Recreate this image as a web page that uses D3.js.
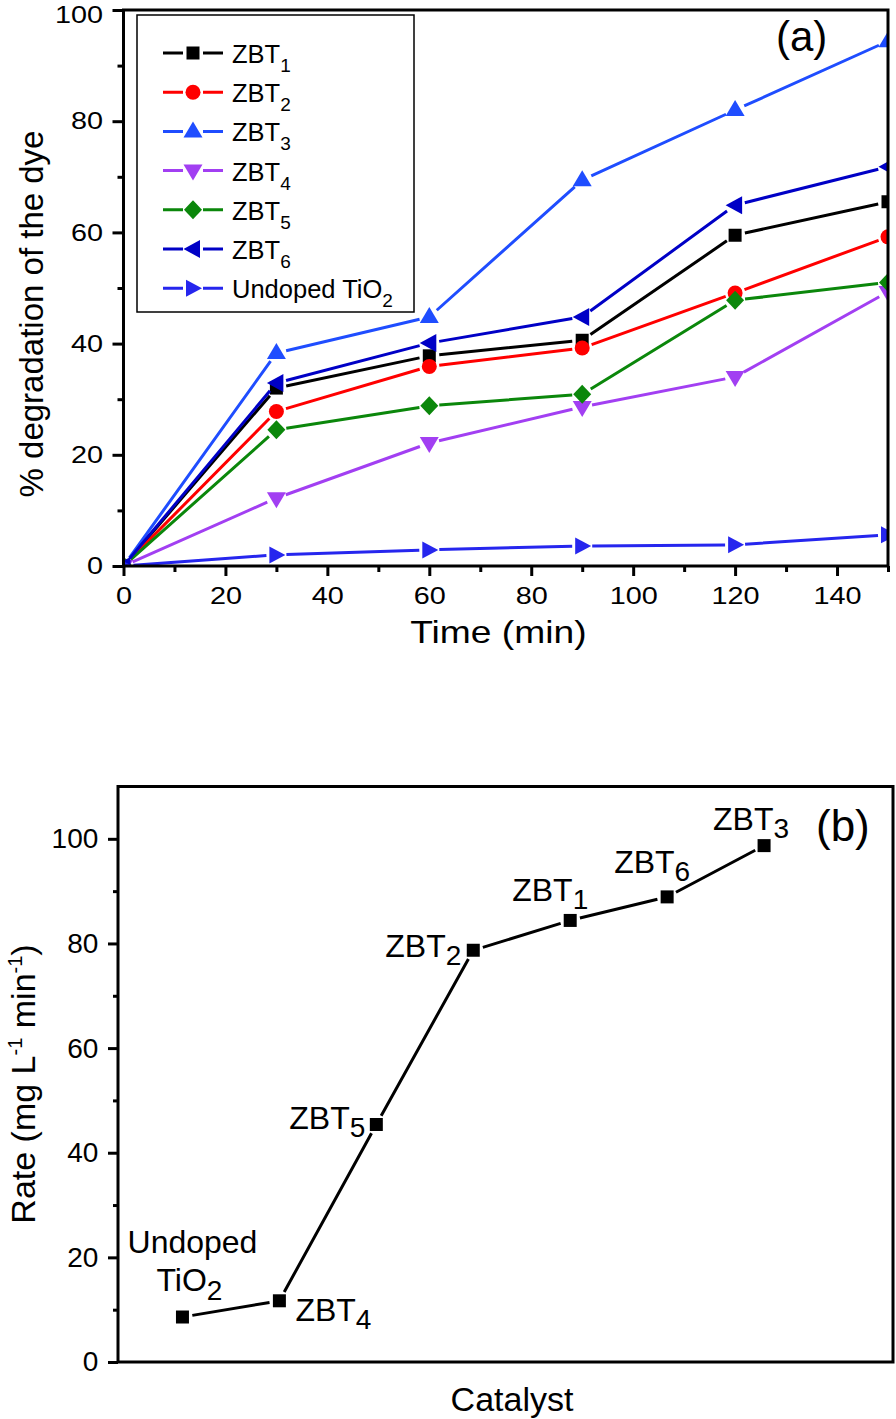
<!DOCTYPE html>
<html><head><meta charset="utf-8">
<script src="https://cdn.jsdelivr.net/npm/d3@7"></script>
<style>body{margin:0;background:#fff}svg{display:block;font-family:"Liberation Sans",Arial,Helvetica,sans-serif}</style>
</head><body><svg id="c" width="896" height="1419"></svg>
<script>
// ---------- data: panel (a) ----------
const timeMin = [0, 30, 60, 90, 120, 150];
const zbt1 = [0, 32.0, 37.8, 40.6, 59.5, 65.5];
const zbt2 = [0, 27.8, 35.9, 39.2, 49.1, 59.2];
const zbt3 = [0, 38.3, 44.8, 69.4, 82.0, 94.4];
const zbt4 = [0, 12.2, 22.1, 28.6, 34.0, 49.3];
const zbt5 = [0, 24.5, 28.8, 30.9, 47.8, 51.0];
const zbt6 = [0, 32.9, 40.1, 44.8, 64.9, 71.8];
const undopedTiO2 = [0, 2.0, 2.9, 3.6, 3.8, 5.6];
const xTicksA = [0, 20, 40, 60, 80, 100, 120, 140];
const xMinorA = [10, 30, 50, 70, 90, 110, 130, 150];
const yTicksA = [0, 20, 40, 60, 80, 100];
const yMinorA = [10, 30, 50, 70, 90];
// ---------- data: panel (b) ----------
const catalystOrder = [1, 2, 3, 4, 5, 6, 7];
const catalystBase = ["Undoped", "ZBT", "ZBT", "ZBT", "ZBT", "ZBT", "ZBT"];
const catalystSub = ["2", "4", "5", "2", "1", "6", "3"];
const rates = [8.6, 11.7, 45.4, 78.7, 84.4, 88.9, 98.7];
const yTicksB = [0, 20, 40, 60, 80, 100];
const yMinorB = [10, 30, 50, 70, 90];

const series = [
  {base: "ZBT", sub: "1", values: zbt1, color: "#000000", shape: "square"},
  {base: "ZBT", sub: "2", values: zbt2, color: "#ff0000", shape: "circle"},
  {base: "ZBT", sub: "3", values: zbt3, color: "#1f4dff", shape: "up"},
  {base: "ZBT", sub: "4", values: zbt4, color: "#a23ff2", shape: "down"},
  {base: "ZBT", sub: "5", values: zbt5, color: "#0b870b", shape: "diamond"},
  {base: "ZBT", sub: "6", values: zbt6, color: "#0000c6", shape: "left"},
  {base: "Undoped TiO", sub: "2", values: undopedTiO2, color: "#2626ee", shape: "right"}
];

const svg = d3.select("#c");

function markerPath(shape) {
  switch (shape) {
    case "square": return "M-6.5,-6.5H6.5V6.5H-6.5Z";
    case "circle": return d3.symbol(d3.symbolCircle, Math.PI * 7.5 * 7.5)();
    case "up": return "M0,-10L9.5,6L-9.5,6Z";
    case "down": return "M0,10L9.5,-6L-9.5,-6Z";
    case "diamond": return "M0,-9.5L9,0L0,9.5L-9,0Z";
    case "left": return "M-9.5,0L7,-9L7,9Z";
    case "right": return "M9,0L-7,-8.5L-7,8.5Z";
  }
}

function gappedPath(pts, gap) {
  let d = "";
  for (let i = 0; i < pts.length - 1; i++) {
    const [x1, y1] = pts[i], [x2, y2] = pts[i + 1];
    const dx = x2 - x1, dy = y2 - y1, L = Math.hypot(dx, dy);
    if (L <= 2 * gap) continue;
    const ux = dx / L, uy = dy / L;
    d += `M${x1 + ux * gap},${y1 + uy * gap}L${x2 - ux * gap},${y2 - uy * gap}`;
  }
  return d;
}

function subText(g, x, y, base, sub, size, subSize, subDy, anchor) {
  const t = g.append("text").attr("x", x).attr("y", y)
    .attr("font-size", size).attr("text-anchor", anchor || "start").attr("fill", "#000");
  t.append("tspan").text(base);
  t.append("tspan").attr("font-size", subSize).attr("dy", subDy).text(sub);
  return t;
}

// =============== Panel (a) ===============
const xA = d3.scaleLinear().domain([0, 150]).range([123.5, 888]);
const yA = d3.scaleLinear().domain([0, 100]).range([566, 10]);
const gA = svg.append("g");

svg.append("defs").append("clipPath").attr("id", "clipA")
  .append("rect").attr("x", xA(0)).attr("y", yA(100))
  .attr("width", xA(150) - xA(0)).attr("height", yA(0) - yA(100));

// axes
const yAxA = gA.append("g").attr("transform", `translate(${xA(0)},0)`)
  .call(d3.axisLeft(yA).tickValues(yTicksA).tickSize(11).tickPadding(9.5));
yAxA.selectAll("text").attr("font-size", 24).attr("font-family", null)
  .attr("transform", "scale(1.2,1)").attr("x", -20.5 / 1.2)
  .attr("dy", d => d === 100 ? "0.5em" : "0.32em");
gA.append("g").attr("transform", `translate(${xA(0)},0)`)
  .call(d3.axisLeft(yA).tickValues(yMinorA).tickSize(6).tickFormat(""));
const xAxA = gA.append("g").attr("transform", `translate(0,${yA(0)})`)
  .call(d3.axisBottom(xA).tickValues(xTicksA).tickSize(10).tickPadding(11));
xAxA.selectAll("text").attr("font-size", 24).attr("font-family", null)
  .attr("transform", "scale(1.2,1)");
gA.append("g").attr("transform", `translate(0,${yA(0)})`)
  .call(d3.axisBottom(xA).tickValues(xMinorA).tickSize(6).tickFormat(""));
gA.selectAll(".domain").remove();
gA.selectAll(".tick line").attr("stroke", "#000").attr("stroke-width", 3);
gA.selectAll(".tick text").attr("fill", "#000");

// series
const plotA = gA.append("g").attr("clip-path", "url(#clipA)");
series.forEach(s => {
  const pts = timeMin.map((t, i) => [xA(t), yA(s.values[i])]);
  plotA.append("path").attr("d", gappedPath(pts, 10))
    .attr("fill", "none").attr("stroke", s.color).attr("stroke-width", 3);
  plotA.selectAll(null).data(pts).enter().append("path")
    .attr("d", markerPath(s.shape))
    .attr("transform", d => `translate(${d[0]},${d[1]})`)
    .attr("fill", s.color);
});

// frame
gA.append("rect").attr("x", xA(0)).attr("y", yA(100))
  .attr("width", xA(150) - xA(0)).attr("height", yA(0) - yA(100))
  .attr("fill", "none").attr("stroke", "#000").attr("stroke-width", 3);

// legend
const leg = gA.append("g");
leg.append("rect").attr("x", 137).attr("y", 15).attr("width", 277).attr("height", 297)
  .attr("fill", "#fff").attr("stroke", "#000").attr("stroke-width", 1.5);
series.forEach((s, i) => {
  const cy = 53 + i * 39.2;
  leg.append("path").attr("d", `M163,${cy}H183M203,${cy}H223`)
    .attr("stroke", s.color).attr("stroke-width", 3);
  leg.append("path").attr("d", markerPath(s.shape))
    .attr("transform", `translate(193,${cy})`).attr("fill", s.color);
  subText(leg, 232, cy + 10, s.base, s.sub, 25.5, 19, 9);
});

// titles
gA.append("text").attr("transform", "translate(43,314) rotate(-90)")
  .attr("text-anchor", "middle").attr("font-size", 33).text("% degradation of the dye");
gA.append("text").attr("transform", "translate(498.4,643) scale(1.2,1)")
  .attr("text-anchor", "middle").attr("font-size", 31).text("Time (min)");
gA.append("text").attr("x", 776).attr("y", 51).attr("font-size", 42).text("(a)");

// =============== Panel (b) ===============
const xB = d3.scaleLinear().domain([0.335, 8.33]).range([118, 893]);
const yB = d3.scaleLinear().domain([0, 110]).range([1362, 786.5]);
const gB = svg.append("g");

const yAxB = gB.append("g").attr("transform", `translate(${xB.range()[0]},0)`)
  .call(d3.axisLeft(yB).tickValues(yTicksB).tickSize(10).tickPadding(9.7));
yAxB.selectAll("text").attr("font-size", 28).attr("font-family", null).attr("fill", "#000");
gB.append("g").attr("transform", `translate(${xB.range()[0]},0)`)
  .call(d3.axisLeft(yB).tickValues(yMinorB).tickSize(5).tickFormat(""));
gB.selectAll(".domain").remove();
gB.selectAll(".tick line").attr("stroke", "#000").attr("stroke-width", 3);

gB.append("rect").attr("x", xB.range()[0]).attr("y", yB(110))
  .attr("width", xB.range()[1] - xB.range()[0]).attr("height", yB(0) - yB(110))
  .attr("fill", "none").attr("stroke", "#000").attr("stroke-width", 3);

const ptsB = catalystOrder.map((c, i) => [xB(c), yB(rates[i])]);
gB.append("path").attr("d", gappedPath(ptsB, 10))
  .attr("fill", "none").attr("stroke", "#000").attr("stroke-width", 3);
gB.selectAll(null).data(ptsB).enter().append("path")
  .attr("d", markerPath("square"))
  .attr("transform", d => `translate(${d[0]},${d[1]})`).attr("fill", "#000");

// point labels (offsets relative to each point)
const lblOff = [
  null,
  {dx: 16, dy: 20, anchor: "start"},
  {dx: -11, dy: 5, anchor: "end"},
  {dx: -12, dy: 7, anchor: "end"},
  {dx: -58, dy: -19, anchor: "start"},
  {dx: -53, dy: -24, anchor: "start"},
  {dx: -51, dy: -16, anchor: "start"}
];
ptsB.forEach((p, i) => {
  if (i === 0) {
    gB.append("text").attr("x", p[0] + 10).attr("y", p[1] - 64)
      .attr("text-anchor", "middle").attr("font-size", 32).text(catalystBase[0]);
    subText(gB, p[0] + 7, p[1] - 26, "TiO", catalystSub[0], 32, 28, 9, "middle");
  } else {
    const o = lblOff[i];
    subText(gB, p[0] + o.dx, p[1] + o.dy, catalystBase[i], catalystSub[i], 32, 28, 8, o.anchor);
  }
});

const yl = gB.append("text").attr("transform", "translate(35,1084) rotate(-90)")
  .attr("text-anchor", "middle").attr("font-size", 34);
yl.append("tspan").text("Rate (mg L");
yl.append("tspan").attr("font-size", 20).attr("dy", -13).text("-1");
yl.append("tspan").attr("dy", 13).text(" min");
yl.append("tspan").attr("font-size", 20).attr("dy", -13).text("-1");
yl.append("tspan").attr("dy", 13).text(")");

gB.append("text").attr("x", 512).attr("y", 1411).attr("text-anchor", "middle")
  .attr("font-size", 34).text("Catalyst");
gB.append("text").attr("x", 816).attr("y", 841).attr("font-size", 44).text("(b)");
</script></body></html>
